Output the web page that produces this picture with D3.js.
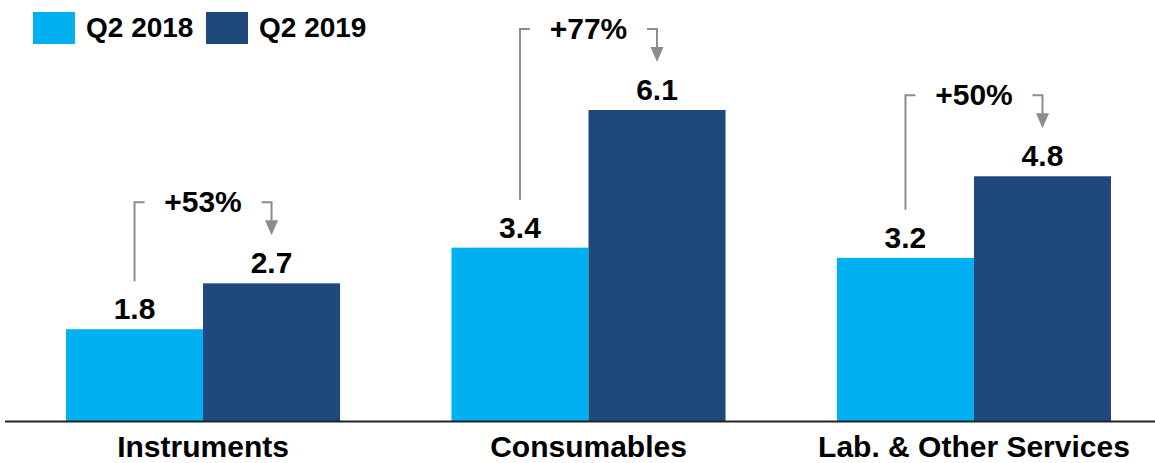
<!DOCTYPE html>
<html><head><meta charset="utf-8">
<script src="https://cdn.jsdelivr.net/npm/d3@7"></script>
<style>
html,body{margin:0;padding:0;background:#fff;}
svg text{font-family:Arial,"Liberation Sans",sans-serif;font-weight:bold;fill:#000;}
</style></head>
<body>
<svg id="chart" width="1155" height="463"></svg>
<script>
const categories = ["Instruments", "Consumables", "Lab. & Other Services"];
const seriesNames = ["Q2 2018", "Q2 2019"];
const q2018 = [1.8, 3.4, 3.2];
const q2019 = [2.7, 6.1, 4.8];
const growthLabels = ["+53%", "+77%", "+50%"];
const colors = ["#00B0F0", "#1F497D"];

const svg = d3.select("#chart");
const baseY = 421;
const x0 = d3.scaleBand().domain(categories).range([66, 1111]).paddingInner(0.289).paddingOuter(0);
const x1 = d3.scaleBand().domain(seriesNames).range([0, x0.bandwidth()]).padding(0);
const y = d3.scaleLinear().domain([0, 6.1]).range([baseY, 110]);
const color = d3.scaleOrdinal().domain(seriesNames).range(colors);

const rows = categories.map((c, i) => ({cat: c, vals: [
  {s: seriesNames[0], v: q2018[i]}, {s: seriesNames[1], v: q2019[i]}], g: growthLabels[i]}));

// bars
const grp = svg.selectAll("g.grp").data(rows).join("g").attr("class","grp")
  .attr("transform", d => `translate(${x0(d.cat)},0)`);
grp.selectAll("rect").data(d => d.vals).join("rect")
  .attr("x", d => x1(d.s)).attr("width", x1.bandwidth())
  .attr("y", d => y(d.v)).attr("height", d => baseY - y(d.v))
  .attr("fill", d => color(d.s));
grp.selectAll("text.val").data(d => d.vals).join("text").attr("class","val")
  .attr("x", d => x1(d.s) + x1.bandwidth()/2).attr("y", d => y(d.v) - 10)
  .attr("text-anchor","middle").style("font-size","30px")
  .text(d => d.v.toFixed(1));

// growth brackets
const gray = "#8C8C8C";
rows.forEach(r => {
  const xa = x0(r.cat) + x1(seriesNames[0]) + x1.bandwidth()/2;
  const xb = x0(r.cat) + x1(seriesNames[1]) + x1.bandwidth()/2;
  const top = y(r.vals[1].v) - 81;
  const leftBottom = y(r.vals[0].v) - 48;
  const tip = y(r.vals[1].v) - 48;
  const g = svg.append("g");
  g.append("path").attr("d", `M${xa},${leftBottom}V${top}H${xa+10}`)
    .attr("fill","none").attr("stroke",gray).attr("stroke-width",2);
  g.append("path").attr("d", `M${xb-10},${top}H${xb}V${tip-13}`)
    .attr("fill","none").attr("stroke",gray).attr("stroke-width",2);
  g.append("path").attr("d", `M${xb-6.5},${tip-15}L${xb+6.5},${tip-15}L${xb},${tip}Z`).attr("fill",gray);
  g.append("text").attr("x", (xa+xb)/2).attr("y", top + 10)
    .attr("text-anchor","middle").style("font-size","30px").text(r.g);
});

// baseline
svg.append("line").attr("x1",5).attr("x2",1155).attr("y1",baseY+0.5).attr("y2",baseY+0.5)
  .attr("stroke","#222").attr("stroke-width",2);

// category axis labels
const ax = svg.append("g").attr("transform",`translate(0,${baseY})`)
  .call(d3.axisBottom(x0).tickSize(0).tickPadding(0));
ax.select(".domain").remove();
ax.selectAll("text").attr("dy",null).attr("y",36).style("font-size","30px")
  .style("font-family","Arial,'Liberation Sans',sans-serif").style("font-weight","bold").attr("fill","#000");

// legend
const leg = svg.append("g");
const legX = [33, 206];
seriesNames.forEach((s, i) => {
  leg.append("rect").attr("x", legX[i]).attr("y", 12).attr("width", 42).attr("height", 32).attr("fill", color(s));
  leg.append("text").attr("x", legX[i] + 53).attr("y", 37).style("font-size","28px").text(s);
});
</script>
</body></html>
